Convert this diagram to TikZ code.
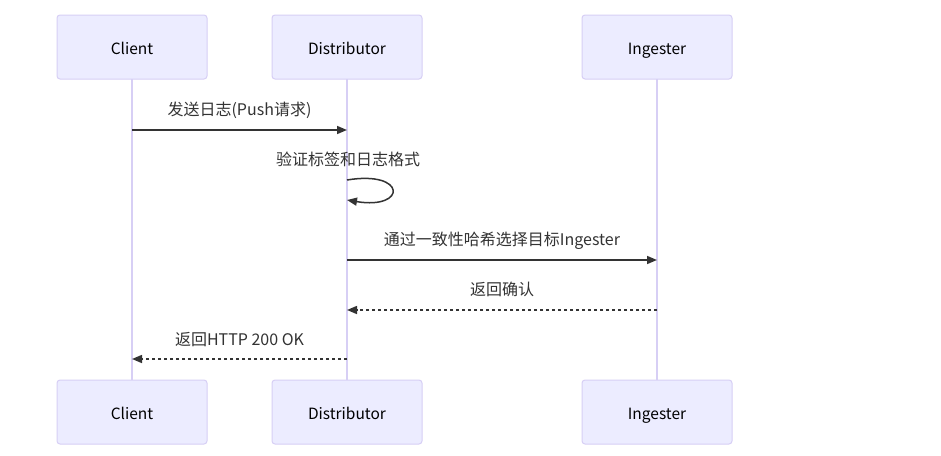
\documentclass[tikz,border=0pt]{standalone}
\usepackage{fontspec}
\setmainfont{Noto Sans CJK SC}
\usetikzlibrary{arrows.meta}
\definecolor{actfill}{HTML}{ECECFF}
\definecolor{actborder}{HTML}{D7CFF5}
\definecolor{lifeline}{HTML}{D7CFF5}
\definecolor{msg}{HTML}{333333}
\begin{document}
\begin{tikzpicture}[x=1pt,y=-1pt,
  actor/.style={draw=actborder,fill=actfill,line width=1pt,rounded corners=3pt,minimum width=150pt,minimum height=64pt,inner sep=0pt,font=\fontsize{15.5}{18}\selectfont,text=black,text height=14pt,text depth=0pt},
  life/.style={draw=lifeline,line width=1.5pt},
  msgline/.style={draw=msg,line width=1.5pt,-{Triangle[length=10pt,width=8pt]}},
  reply/.style={msgline,dash pattern=on 3pt off 3pt},
  lbl/.style={font=\fontsize{16}{18}\selectfont,text=msg,inner sep=0pt,text height=11.5pt,text depth=3.5pt}]
\useasboundingbox (0,0) rectangle (941,455);
\fill[white] (0,0) rectangle (941,455);
% lifelines
\coordinate (cT) at (132,79); \coordinate (cB) at (132,380);
\coordinate (dT) at (347,79); \coordinate (dB) at (347,380);
\coordinate (iT) at (657,79); \coordinate (iB) at (657,380);
\draw[life] (cT) -- (cB);
\draw[life] (dT) -- (dB);
\draw[life] (iT) -- (iB);
% actors
\node[actor] (c1) at (132,47) {Client};
\node[actor] (d1) at (347,47) {Distributor};
\node[actor] (i1) at (657,47) {Ingester};
\node[actor] (c2) at (132,412) {Client};
\node[actor] (d2) at (347,412) {Distributor};
\node[actor] (i2) at (657,412) {Ingester};
% message anchors
\coordinate (m1a) at (132,130); \coordinate (m1b) at (347,130);
\coordinate (s1) at (347,180); \coordinate (s2) at (347,200);
\coordinate (m3a) at (347,260); \coordinate (m3b) at (657,260);
\coordinate (m4a) at (657,310); \coordinate (m4b) at (347,310);
\coordinate (m5a) at (347,359); \coordinate (m5b) at (132,359);
% messages
\node[lbl] (l1) at (239.5,111) {发送日志(Push请求)};
\draw[msgline] (m1a) -- (m1b);
\node[lbl] (l2) at (348,161) {验证标签和日志格式};
\draw[msgline] (s1) .. controls (407,170) and (407,210) .. (s2);
\node[lbl] (l3) at (502,241) {通过一致性哈希选择目标Ingester};
\draw[msgline] (m3a) -- (m3b);
\node[lbl] (l4) at (502,291) {返回确认};
\draw[reply] (m4a) -- (m4b);
\node[lbl] (l5) at (239.5,341) {返回HTTP 200 OK};
\draw[reply] (m5a) -- (m5b);
\end{tikzpicture}
\end{document}
